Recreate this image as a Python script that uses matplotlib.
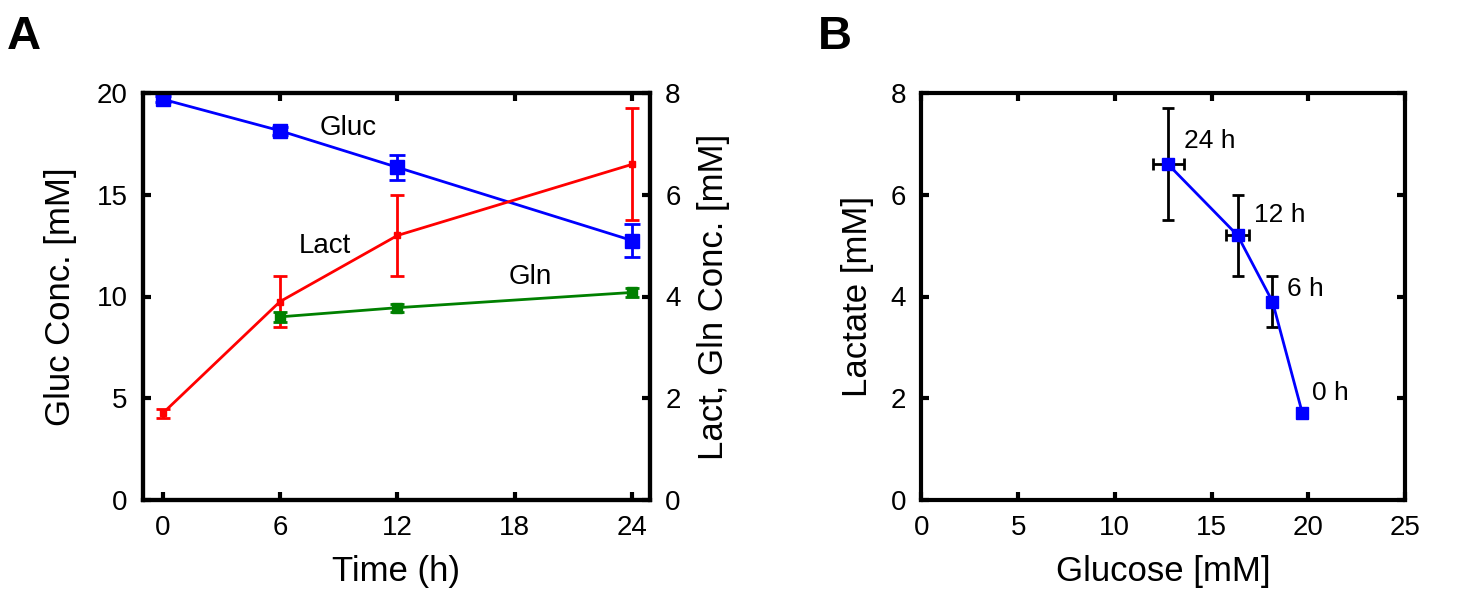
import numpy as np
import matplotlib
matplotlib.use('Agg')
import matplotlib.pyplot as plt

plt.rcParams['font.family'] = ['Liberation Sans', 'DejaVu Sans']

# time course data
time_h = [0, 6, 12, 24]
gluc = [19.7, 18.15, 16.35, 12.75]
gluc_err = [0.15, 0.2, 0.6, 0.8]
lact = [1.7, 3.9, 5.2, 6.6]
lact_err = [0.08, 0.5, 0.8, 1.1]
gln_time = [6, 12, 24]
gln = [3.6, 3.78, 4.08]
gln_err = [0.1, 0.08, 0.08]
time_labels = ['0 h', '6 h', '12 h', '24 h']

fig = plt.figure(figsize=(14.65, 5.93), dpi=100)

def style(ax):
    for s in ax.spines.values():
        s.set_linewidth(3)
    ax.tick_params(direction='in', length=6, width=3, labelsize=20, pad=11)

# ---- panel A
axA = fig.add_axes([0.0976, 0.157, 0.346, 0.686])
axA2 = axA.twinx()
axA.errorbar(time_h, gluc, yerr=gluc_err, color='blue', marker='s', ms=9.5,
             lw=2, elinewidth=2, capsize=5.5, capthick=2)
axA2.errorbar(time_h, lact, yerr=lact_err, color='red', marker='s', ms=5,
              lw=2, elinewidth=2, capsize=5, capthick=2)
axA2.errorbar(gln_time, gln, yerr=gln_err, color='green', marker='s', ms=7,
              lw=2, elinewidth=2, capsize=5, capthick=2)
axA.set_xlim(-1, 24.9)
axA.set_ylim(0, 20)
axA2.set_ylim(0, 8)
axA.set_xticks([0, 6, 12, 18, 24])
axA.set_yticks([0, 5, 10, 15, 20])
axA2.set_yticks([0, 2, 4, 6, 8])
style(axA)
style(axA2)
axA.tick_params(top=True, right=False)
axA.set_xlabel('Time (h)', fontsize=25, labelpad=10)
axA.set_ylabel('Gluc Conc. [mM]', fontsize=25, labelpad=14)
axA2.set_ylabel('Lact, Gln Conc. [mM]', fontsize=25, labelpad=12)
axA.text(9.5, 18.3, 'Gluc', fontsize=20, ha='center', va='center')
axA.text(8.3, 12.5, 'Lact', fontsize=20, ha='center', va='center')
axA.text(18.8, 10.95, 'Gln', fontsize=20, ha='center', va='center')

# ---- panel B
axB = fig.add_axes([0.629, 0.157, 0.33, 0.686])
axB.errorbar(gluc, lact, xerr=gluc_err, yerr=lact_err, color='blue', marker='s',
             ms=9, lw=2, ecolor='black', elinewidth=2, capsize=4, capthick=2)
axB.set_xlim(0, 25)
axB.set_ylim(0, 8)
axB.set_xticks([0, 5, 10, 15, 20, 25])
axB.set_yticks([0, 2, 4, 6, 8])
style(axB)
axB.tick_params(top=True, right=True)
axB.set_xlabel('Glucose [mM]', fontsize=25, labelpad=10)
axB.set_ylabel('Lactate [mM]', fontsize=25, labelpad=12)
label_pos = [(20.2, 2.1), (18.9, 4.15), (17.2, 5.6), (13.6, 7.05)]
for lab, (x, y) in zip(time_labels, label_pos):
    axB.text(x, y, lab, fontsize=19, ha='left', va='center')

fig.text(0.005, 0.918, 'A', fontsize=34, fontweight='bold')
fig.text(0.558, 0.918, 'B', fontsize=34, fontweight='bold')

fig.savefig('out.png', dpi=100)
